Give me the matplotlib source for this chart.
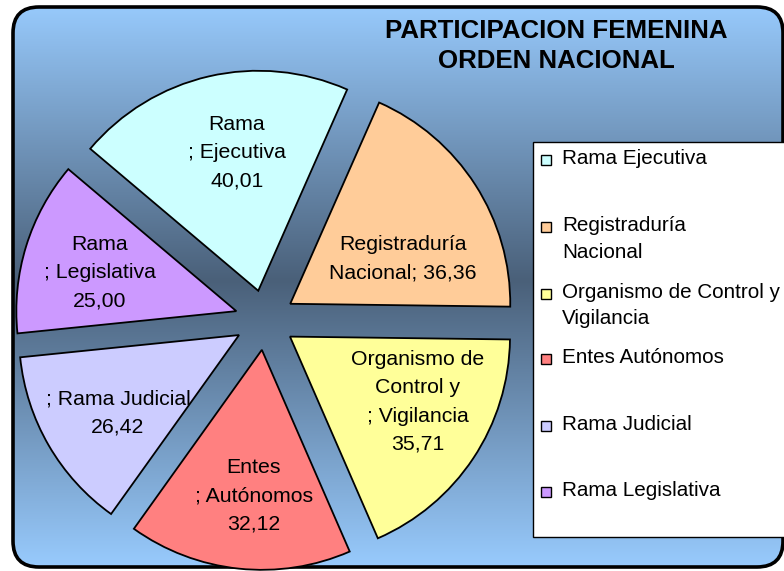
import numpy as np
import matplotlib
matplotlib.use("Agg")
from matplotlib import pyplot as plt
from matplotlib.patches import FancyBboxPatch, Rectangle

plt.rcParams['font.family'] = ['Liberation Sans', 'DejaVu Sans']

# data
categories = ['Rama Ejecutiva', 'Registraduría Nacional', 'Organismo de Control y Vigilancia',
              'Entes Autónomos', 'Rama Judicial', 'Rama Legislativa']
values = [40.01, 36.36, 35.71, 32.12, 26.42, 25.00]
slice_labels = ['Rama\n; Ejecutiva\n{}', 'Registraduría\nNacional; {}',
                'Organismo de\nControl y\n; Vigilancia\n{}', 'Entes\n; Autónomos\n{}',
                '; Rama Judicial\n{}', 'Rama\n; Legislativa\n{}']
legend_labels = ['Rama Ejecutiva', 'Registraduría\nNacional', 'Organismo de Control y\nVigilancia',
                 'Entes Autónomos', 'Rama Judicial', 'Rama Legislativa']
colors = ['#CCFFFF', '#FFCC99', '#FFFF99', '#FF8080', '#CCCCFF', '#CC99FF']

W, H = 784, 571
fig = plt.figure(figsize=(W / 100, H / 100), dpi=100)
fig.patch.set_facecolor('white')
ax = fig.add_axes([0, 0, 1, 1])
ax.set_xlim(0, W)
ax.set_ylim(0, H)
ax.axis('off')

# chart area: rounded box with vertical gradient (light - dark - light)
frame = FancyBboxPatch((13, 4), 770, 560, boxstyle='round,pad=0,rounding_size=26',
                       transform=ax.transData, facecolor='none', edgecolor='none')
ax.add_patch(frame)
yy = np.arange(H)
light = np.array([153, 204, 255]) / 255
dark = np.array([74, 96, 121]) / 255
t = np.interp(yy, [0, 290, H], [0, 1, 0])
grad = light[None, :] * (1 - t[:, None]) + dark[None, :] * t[:, None]
im = ax.imshow(grad[:, None, :], extent=[0, W, H, 0], aspect='auto', zorder=0)
im.set_clip_path(frame)
ax.add_patch(FancyBboxPatch((13, 4), 770, 560, boxstyle='round,pad=0,rounding_size=26',
                            facecolor='none', edgecolor='black', lw=2.6, zorder=1))

# exploded pie (explode is in data units here, radius in pixels)
r = 220
wedges, _ = ax.pie(values, colors=colors, radius=r, center=(265, H - 320),
                   explode=[30] * len(values), startangle=139.8, counterclock=False,
                   wedgeprops=dict(edgecolor='black', linewidth=1.3), frame=True)
for w in wedges:
    w.set_zorder(2)
ax.set_xlim(0, W)
ax.set_ylim(0, H)
ax.axis('off')

label_pos = [(237, 153), (403, 259), (418, 402), (254, 496), (118, 413), (100, 273)]
for tpl, v, (lx, ly) in zip(slice_labels, values, label_pos):
    txt = tpl.format(f'{v:.2f}'.replace('.', ','))
    ax.text(lx, H - ly, txt, ha='center', va='center', fontsize=15.3,
            linespacing=1.62, zorder=3)

# title
ax.text(556, H - 46, 'PARTICIPACION FEMENINA\nORDEN NACIONAL', ha='center', va='center',
        fontsize=18.6, fontweight='bold', linespacing=1.35, zorder=3)

# legend
ax.add_patch(Rectangle((533, H - 537), 270, 395, facecolor='white', edgecolor='black',
                       lw=1.0, zorder=4, clip_on=False))
legend_y = [160, 227, 294, 359, 426, 492]
for lab, c, ly in zip(legend_labels, colors, legend_y):
    ax.add_patch(Rectangle((541, H - ly - 5), 10, 10, facecolor=c, edgecolor='black',
                           lw=1.0, zorder=5))
    ax.text(562, H - ly + 11, lab, ha='left', va='top', fontsize=14.9,
            linespacing=1.5, zorder=5)

fig.savefig('out.png', dpi=100)
